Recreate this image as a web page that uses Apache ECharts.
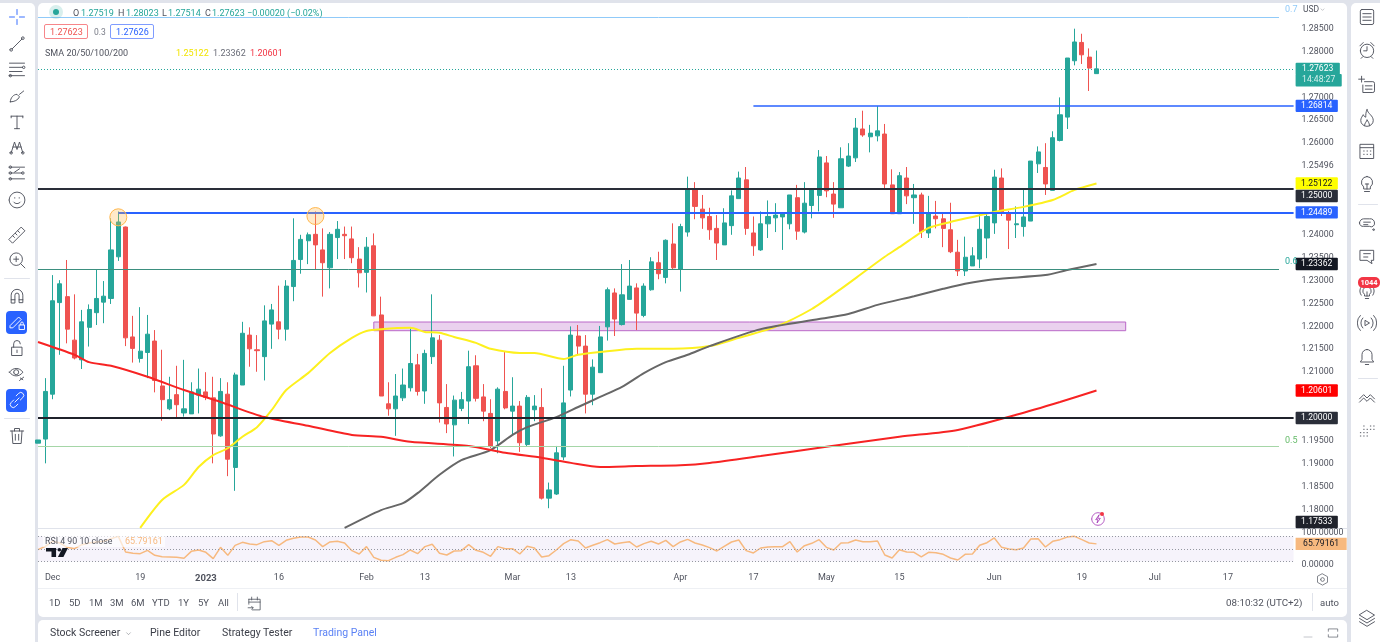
<!DOCTYPE html>
<html>
<head>
<meta charset="UTF-8">
<title>GBP/USD daily</title>
<script src="https://cdn.jsdelivr.net/npm/echarts@6/dist/echarts.min.js"></script>
<style>
html, body { margin: 0; height: 100%; background: #e0e3eb; overflow: hidden; font-family: Roboto, "Liberation Sans", sans-serif; }
.panel { position: absolute; background: #fff; z-index: 0; }
#main { position: absolute; left: 0; top: 0; width: 1380px; height: 642px; z-index: 1; }
#overlay { position: absolute; left: 0; top: 0; width: 1380px; height: 642px; z-index: 2; pointer-events: none; }
#overlay span { position: absolute; white-space: nowrap; line-height: 1; transform: translateY(-50%); }
#overlay svg { position: absolute; fill: none; stroke-linecap: round; stroke-linejoin: round; }
.box { position: absolute; box-sizing: border-box; border-radius: 2px; }
</style>
</head>
<body>
<div class="panel" style="left:0;top:3px;width:35px;height:639px;border-radius:0 5px 0 0"></div>
<div class="panel" style="left:38px;top:3px;width:1309px;height:614px;border-radius:5px"></div>
<div class="panel" style="left:38px;top:620px;width:1309px;height:22px;border-radius:5px 5px 0 0"></div>
<div class="panel" style="left:1351px;top:3px;width:29px;height:639px;border-radius:5px 0 0 0"></div>
<div class="panel" style="left:38px;top:528px;width:1309px;height:1px;background:#e0e3eb"></div>
<div class="panel" style="left:38px;top:588px;width:1309px;height:1px;background:#eef0f4"></div>
<div class="panel" style="left:237px;top:593px;width:1px;height:18px;background:#e0e3eb"></div>
<div class="panel" style="left:1312px;top:593px;width:1px;height:18px;background:#e0e3eb"></div>
<div id="main"></div>
<div id="overlay"></div>
<script type="text/javascript">
// candles
var opens = [
  1.1945,1.1954,1.2052,1.2252,1.2265,1.2170,1.2127,1.2198,1.2230,1.2253,
  1.2261,1.2352,1.2417,1.2177,1.2130,1.2143,1.2168,1.2070,1.2020,1.2051,
  1.2011,1.2009,1.2050,1.2057,1.2044,1.1961,1.2052,1.1892,1.2072,1.2181,
  1.2149,1.2134,1.2205,1.2210,1.2194,1.2287,1.2346,1.2387,1.2401,1.2367,
  1.2328,1.2394,1.2401,1.2391,1.2347,1.2318,1.2376,1.2225,1.2031,1.2020,
  1.2044,1.2066,1.2116,1.2059,1.2134,1.2170,1.2023,1.1985,1.2021,1.2037,
  1.2114,1.2046,1.2010,1.1950,1.2058,1.2015,1.2026,1.1942,1.2018,1.2023,
  1.1825,1.1834,1.1915,1.2061,1.2179,1.2157,1.2052,1.2099,1.2199,1.2273,
  1.2204,1.2259,1.2284,1.2224,1.2280,1.2339,1.2307,1.2380,1.2325,1.2406,
  1.2501,1.2456,1.2440,1.2414,1.2378,1.2420,1.2479,1.2520,1.2404,1.2367,
  1.2424,1.2437,1.2439,1.2424,1.2481,1.2406,1.2464,1.2486,1.2557,1.2489,
  1.2459,1.2550,1.2568,1.2631,1.2614,1.2616,1.2620,1.2509,1.2446,1.2524,
  1.2481,1.2487,1.2404,1.2441,1.2435,1.2411,1.2362,1.2321,1.2332,1.2347,
  1.2393,1.2426,1.2524,1.2446,1.2422,1.2418,1.2430,1.2555,1.2547,1.2497,
  1.2606,1.2657,1.2780,1.2820,1.2788,1.27519
];
var closes = [
  1.1952,1.2058,1.2256,1.2293,1.2194,1.2131,1.2210,1.2237,1.2261,1.2266,
  1.2367,1.2428,1.2175,1.2152,1.2146,1.2183,1.2082,1.2040,1.2040,1.2029,
  1.2020,1.2057,1.2063,1.2045,1.1965,1.2058,1.1910,1.2094,1.2185,1.2151,
  1.2147,1.2212,1.2236,1.2194,1.2288,1.2344,1.2390,1.2400,1.2378,1.2339,
  1.2401,1.2412,1.2398,1.2350,1.2317,1.2373,1.2223,1.2048,1.2020,1.2048,
  1.2072,1.2119,1.2058,1.2141,1.2175,1.2033,1.1987,1.2039,1.2040,1.2112,
  1.2043,1.2015,1.1939,1.2063,1.2022,1.2026,1.1946,1.2045,1.2026,1.1825,
  1.1843,1.1924,1.2033,1.2181,1.2157,1.2052,1.2111,1.2177,1.2280,1.2216,
  1.2269,1.2288,1.2229,1.2288,1.2341,1.2315,1.2388,1.2328,1.2418,1.2501,
  1.2462,1.2437,1.2411,1.2382,1.2426,1.2485,1.2524,1.2414,1.2376,1.2424,
  1.2440,1.2443,1.2446,1.2487,1.2408,1.2469,1.2499,1.2570,1.2496,1.2467,
  1.2566,1.2572,1.2633,1.2618,1.2622,1.2627,1.2511,1.2446,1.2529,1.2485,
  1.2487,1.2407,1.2446,1.2435,1.2414,1.2363,1.2321,1.2351,1.2354,1.2412,
  1.2440,1.2526,1.2450,1.2432,1.2424,1.2439,1.2561,1.2581,1.2511,1.2612,
  1.2662,1.2786,1.2821,1.2793,1.2764,1.27623
];
var highs = [
  1.1952,1.2087,1.2312,1.2301,1.2345,1.2270,1.2236,1.2248,1.2325,1.2299,
  1.2436,1.2451,1.2418,1.2223,1.2242,1.2225,1.2192,1.2149,1.2090,1.2114,
  1.2127,1.2078,1.2108,1.2100,1.2090,1.2087,1.2078,1.2099,1.2210,1.2198,
  1.2181,1.2246,1.2249,1.2289,1.2301,1.2436,1.2400,1.2405,1.2451,1.2414,
  1.2406,1.2430,1.2418,1.2418,1.2373,1.2395,1.2403,1.2265,1.2078,1.2096,
  1.2108,1.2196,1.2140,1.2149,1.2270,1.2181,1.2074,1.2049,1.2057,1.2147,
  1.2137,1.2074,1.2041,1.2067,1.2145,1.2089,1.2037,1.2050,1.2050,1.2065,
  1.1859,1.1939,1.2114,1.2200,1.2203,1.2181,1.2128,1.2201,1.2285,1.2283,
  1.2336,1.2345,1.2294,1.2294,1.2351,1.2363,1.2390,1.2425,1.2424,1.2527,
  1.2515,1.2487,1.2459,1.2443,1.2458,1.2497,1.2538,1.2548,1.2440,1.2451,
  1.2475,1.2469,1.2446,1.2487,1.2509,1.2515,1.2501,1.2585,1.2572,1.2515,
  1.2591,1.2600,1.2655,1.2671,1.2640,1.2681,1.2642,1.2543,1.2537,1.2548,
  1.2511,1.2492,1.2485,1.2474,1.2448,1.2470,1.2389,1.2396,1.2373,1.2448,
  1.2448,1.2542,1.2545,1.2452,1.2462,1.2502,1.2561,1.2593,1.2600,1.2626,
  1.2700,1.2786,1.2850,1.2839,1.2807,1.28023
];
var lows = [
  1.1945,1.1901,1.2041,1.2138,1.2163,1.2128,1.2107,1.2156,1.2203,1.2207,
  1.2249,1.2343,1.2157,1.2121,1.2121,1.2087,1.2056,1.1994,1.2017,1.2001,
  1.2003,1.2009,1.2010,1.2039,1.1901,1.1959,1.1873,1.1841,1.2072,1.2112,
  1.2101,1.2082,1.2151,1.2172,1.2169,1.2255,1.2315,1.2336,1.2325,1.2265,
  1.2283,1.2347,1.2347,1.2338,1.2285,1.2274,1.2223,1.2048,1.2005,1.1961,
  1.2037,1.2058,1.2049,1.2031,1.2118,1.1990,1.1967,1.1916,1.2015,1.1987,
  1.2036,1.1993,1.1934,1.1923,1.2019,1.1963,1.1926,1.1939,1.1993,1.1822,
  1.1803,1.1832,1.1908,1.2047,1.2138,1.2010,1.2028,1.2099,1.2169,1.2179,
  1.2202,1.2259,1.2192,1.2220,1.2278,1.2303,1.2294,1.2325,1.2276,1.2396,
  1.2434,1.2413,1.2389,1.2345,1.2378,1.2400,1.2479,1.2400,1.2354,1.2365,
  1.2393,1.2406,1.2367,1.2412,1.2389,1.2403,1.2436,1.2451,1.2482,1.2437,
  1.2459,1.2548,1.2559,1.2614,1.2580,1.2604,1.2498,1.2446,1.2446,1.2467,
  1.2424,1.2393,1.2393,1.2414,1.2373,1.2360,1.2310,1.2310,1.2332,1.2327,
  1.2349,1.2402,1.2441,1.2369,1.2393,1.2396,1.2430,1.2535,1.2487,1.2497,
  1.2604,1.2631,1.2770,1.2773,1.2714,1.27514
];

// moving averages as [bar index, price], read every few bars
var sma50 = [[14,1.1760],[17,1.1821],[20,1.1854],[22,1.1893],[24,1.1919],[26,1.1934],[28,1.1959],[30,1.1980],[32,1.2017],[34,1.2061],[37,1.2098],[40,1.2142],[43,1.2175],[45,1.2190],[47,1.2194],[51,1.2197],[53,1.2188],[55,1.2186],[57,1.2177],[60,1.2164],[62,1.2151],[66,1.2142],[68,1.2142],[72,1.2129],[74,1.2138],[77,1.2144],[82,1.2151],[87,1.2151],[92,1.2157],[96,1.2175],[101,1.2199],[106,1.2238],[110,1.2282],[113,1.2317],[116,1.2352],[118,1.2373],[120,1.2395],[122,1.2415],[125,1.2428],[128,1.2439],[131,1.2450],[135,1.2461],[139,1.2476],[142,1.2498],[145,1.25122]];
var sma100 = [[42,1.1760],[47,1.1799],[50,1.1814],[52,1.1836],[55,1.1876],[58,1.1908],[62,1.1930],[65,1.1963],[67,1.1980],[71,1.2002],[74,1.2024],[77,1.2046],[80,1.2068],[83,1.2098],[86,1.2122],[89,1.2138],[92,1.2157],[99,1.2194],[107,1.2216],[111,1.2227],[115,1.2247],[120,1.2266],[124,1.2282],[127,1.2293],[131,1.2303],[138,1.2312],[141,1.2323],[145,1.23362]];
var sma200 = [[0,1.2166],[5,1.2138],[7,1.2122],[10,1.2114],[15,1.2090],[20,1.2061],[25,1.2035],[31,1.2002],[37,1.1983],[43,1.1963],[47,1.1959],[51,1.1948],[59,1.1939],[64,1.1924],[69,1.1913],[73,1.1902],[77,1.1893],[82,1.1895],[88,1.1897],[92,1.1902],[99,1.1917],[108,1.1937],[118,1.1959],[126,1.1974],[134,1.2007],[140,1.2035],[145,1.20601]];

var rsi = [
  47.4,58.0,73.9,68.6,54.8,50.6,63.3,68.6,71.8,73.9,82.3,89.7,40.0,35.8,34.7,45.3,29.4,25.2,24.2,23.1,
  19.9,42.1,46.4,39.0,18.9,54.8,29.4,61.2,70.7,65.4,63.3,72.8,76.0,61.2,77.1,83.4,87.6,87.6,78.1,57.0,
  71.8,73.9,68.6,44.3,33.7,57.0,23.1,13.6,12.5,23.1,31.6,46.4,34.7,57.0,64.4,35.8,30.5,43.2,44.3,63.3,
  45.3,39.0,26.3,57.0,50.6,50.6,33.7,58.0,52.7,24.2,28.4,46.4,66.5,79.2,74.9,52.7,61.2,69.6,79.2,65.4,
  69.6,72.8,55.9,66.5,73.9,65.4,77.1,57.0,71.8,80.2,68.6,62.2,53.8,43.2,58.0,71.8,78.1,44.3,36.9,52.7,
  55.9,57.0,57.0,72.8,40.0,60.1,67.5,79.2,54.8,46.4,68.6,69.6,78.1,72.8,72.8,74.9,30.5,21.0,47.4,40.0,
  39.0,24.2,39.0,37.9,32.6,21.0,14.6,32.6,33.7,61.2,69.6,84.5,54.8,49.5,47.4,52.7,81.3,82.3,55.9,73.9,
  79.2,87.6,89.7,79.2,68.6,65.79161
];

// x axis: bar indexes that carry a label, and the labels
var xTickIndex = [2,14,23,33,45,53,65,73,88,98,108,118,131,143,153,163];
var xTickText = ['Dec','19','2023','16','Feb','13','Mar','13','Apr','17','May','15','Jun','19','Jul','17'];
// price labels that are visible on the right axis
var yTickLabels = ['1.18000','1.18500','1.19000','1.19500','1.20000','1.21000','1.21500','1.22000','1.22500','1.23000','1.23500','1.24000','1.25496','1.26000','1.26500','1.27000','1.28000','1.28500'];
var rsiBands = [90, 50, 10];

var BAR_COUNT = 173;
// trading days, 29 Nov 2022 on, Boxing Day missing like in the picture
var categories = [];
var day = new Date(Date.UTC(2022, 10, 29));
while (categories.length < BAR_COUNT) {
    var iso = day.toISOString().slice(0, 10);
    if (day.getUTCDay() % 6 !== 0 && iso !== '2022-12-26') categories.push(iso);
    day = new Date(day.getTime() + 86400000);
}
var LAST = BAR_COUNT - 1;

function level(from, to, price, color, width, type) {
    return [{ coord: [from, price], lineStyle: { color: color, width: width, type: type || 'solid' }, label: { show: false } }, { coord: [to, price] }];
}
// price tag on the axis, hung on the end of a see-through stub
function tag(price, text, bg, fg, pad) {
    return [{
        coord: [LAST - 1, price],
        lineStyle: { color: 'rgba(0,0,0,0)', width: 0 },
        label: { show: true, position: 'end', distance: 2, formatter: text, backgroundColor: bg, color: fg, fontSize: 8.6, lineHeight: 12.4, height: 12.4, padding: [0, pad || 5.5], fontFamily: 'Roboto', borderRadius: 1 }
    }, { coord: [LAST, price] }];
}

var myChart = echarts.init(document.getElementById('main'), null, { renderer: 'canvas' });

var option = {
    animation: false,
    backgroundColor: 'transparent',
    grid: [
        { left: 38, top: 5.8, width: 1255.6, height: 526.7 },
        { left: 38, top: 533.1, width: 1255.6, height: 31.5 }
    ],
    xAxis: [
        { type: 'category', gridIndex: 0, data: categories, boundaryGap: false, axisLine: { show: false }, axisTick: { show: false }, axisLabel: { show: false }, splitLine: { show: false } },
        {
            type: 'category', gridIndex: 1, data: categories, boundaryGap: false, axisLine: { show: false }, axisTick: { show: false }, splitLine: { show: false },
            axisLabel: {
                margin: 9, fontSize: 9, fontFamily: 'Roboto', color: '#50535e', hideOverlap: false,
                interval: function (i) { return xTickIndex.indexOf(i) >= 0; },
                formatter: function (v, i) {
                    var t = xTickText[xTickIndex.indexOf(i)];
                    return t === '2023' ? '{b|2023}' : t;
                },
                rich: { b: { fontSize: 9.5, fontWeight: 'bold', color: '#50535e', fontFamily: 'Roboto' } }
            }
        }
    ],
    yAxis: [
        {
            type: 'value', gridIndex: 0, position: 'right', min: 1.175, max: 1.29, interval: 0.005, axisLine: { show: false }, axisTick: { show: false }, splitLine: { show: false },
            axisLabel: {
                margin: 8, fontSize: 8.8, fontFamily: 'Roboto', color: '#50535e',
                formatter: function (v) {
                    var s = v.toFixed(5);
                    if (s === '1.25500') s = '1.25496';
                    return yTickLabels.indexOf(s) >= 0 ? s : '';
                }
            }
        },
        {
            type: 'value', gridIndex: 1, position: 'right', min: 0, max: 100, interval: 100, axisLine: { show: false }, axisTick: { show: false }, splitLine: { show: false },
            axisLabel: { margin: 8, fontSize: 8.8, fontFamily: 'Roboto', color: '#50535e', formatter: function (v) { return v.toFixed(5); } }
        }
    ],
    series: [
        {
            name: 'GBPUSD', type: 'candlestick', xAxisIndex: 0, yAxisIndex: 0, z: 2, barWidth: 4.6,
            itemStyle: { color: '#26a69a', color0: '#ef5350', borderColor: '#26a69a', borderColor0: '#ef5350', borderWidth: 1 },
            data: opens.map(function (o, i) { return [o, closes[i], lows[i], highs[i]]; })
        },
        {
            name: 'levels', type: 'line', xAxisIndex: 0, yAxisIndex: 0, z: 3, data: [], clip: false,
            markLine: {
                silent: true, symbol: 'none', animation: false,
                data: [
                    level(0, 170, 1.28755, '#90caf9', 1),
                    level(0, LAST, 1.27623, '#26a69a', 1, [1, 2]),
                    level(98, LAST, 1.26814, '#2962ff', 1.5),
                    level(0, LAST, 1.25, '#2a2e39', 2),
                    level(11, LAST, 1.24489, '#2962ff', 2),
                    level(0, 170, 1.23247, '#3b8f7f', 1),
                    level(0, LAST, 1.2, '#1f222b', 2),
                    level(0, 170, 1.19373, '#a5d6a7', 1)
                ]
            },
            markArea: {
                silent: true,
                itemStyle: { color: 'rgba(186,104,200,0.3)', borderColor: '#ba68c8', borderWidth: 1 },
                data: [[{ coord: [46, 1.22096] }, { coord: [149, 1.21906] }]]
            }
        },
        { name: 'SMA 50', type: 'line', xAxisIndex: 0, yAxisIndex: 0, z: 4, data: sma50, showSymbol: false, smooth: 0.25, lineStyle: { color: '#fdf01e', width: 2 } },
        { name: 'SMA 100', type: 'line', xAxisIndex: 0, yAxisIndex: 0, z: 4, data: sma100, showSymbol: false, smooth: 0.25, lineStyle: { color: '#676767', width: 2 } },
        { name: 'SMA 200', type: 'line', xAxisIndex: 0, yAxisIndex: 0, z: 4, data: sma200, showSymbol: false, smooth: 0.25, lineStyle: { color: '#f72323', width: 2 } },
        {
            name: 'marks', type: 'scatter', xAxisIndex: 0, yAxisIndex: 0, z: 5, symbolSize: 17,
            itemStyle: { color: 'rgba(255,183,77,0.3)', borderColor: '#ffb74d', borderWidth: 1, opacity: 1 },
            data: [[11, 1.24382], [38, 1.2441]]
        },
        {
            name: 'tags', type: 'line', xAxisIndex: 0, yAxisIndex: 0, z: 10, data: [], clip: false,
            markLine: {
                silent: true, symbol: 'none', animation: false,
                data: [
                    tag(1.27623, '1.27623', '#26a69a', '#fff', 6.5),
                    tag(1.27375, '14:48:27', '#26a69a', '#d6f0ed', 6.5),
                    tag(1.26814, '1.26814', '#2962ff', '#fff'),
                    tag(1.25122, '1.25122', '#ffff00', '#131722'),
                    tag(1.24847, '1.25000', '#2a2e39', '#fff'),
                    tag(1.24489, '1.24489', '#2962ff', '#fff'),
                    tag(1.23362, '1.23362', '#131722', '#fff'),
                    tag(1.20601, '1.20601', '#ff0000', '#fff'),
                    tag(1.2, '1.20000', '#2a2e39', '#fff'),
                    tag(1.17729, '1.17533', '#1f222b', '#fff')
                ]
            }
        },
        {
            name: 'RSI', type: 'line', xAxisIndex: 1, yAxisIndex: 1, z: 4, data: rsi, showSymbol: false, clip: false,
            lineStyle: { color: '#f7b97f', width: 1.5 },
            markArea: {
                silent: true, itemStyle: { color: 'rgba(126,87,194,0.07)' },
                data: [[{ coord: [0, rsiBands[0]] }, { coord: [LAST, rsiBands[2]] }]]
            },
            markLine: {
                silent: true, symbol: 'none', animation: false,
                data: rsiBands.map(function (b) { return level(0, LAST, b, '#9598a1', 1, [1, 2]); }).concat([
                    [{
                        coord: [LAST - 1, rsi[rsi.length - 1]], lineStyle: { color: 'rgba(0,0,0,0)', width: 0 },
                        label: { show: true, position: 'end', distance: 2, formatter: '65.79161', backgroundColor: '#f7b97f', color: '#131722', fontSize: 8.6, lineHeight: 12.4, height: 12.4, padding: [0, 7.5], fontFamily: 'Roboto' }
                    }, { coord: [LAST, rsi[rsi.length - 1]] }]
                ])
            }
        }
    ]
};
myChart.setOption(option);

// ------ everything around the chart: legends, toolbars, tabs ------
var overlay = document.getElementById('overlay');
var TXT = '#50535e', INK = '#4a4e59', GREEN = '#26a69a', BLUE = '#2962ff';

function text(x, y, s, color, size, extra) {
    var el = document.createElement('span');
    el.textContent = s;
    el.style.left = x + 'px';
    el.style.top = y + 'px';
    el.style.color = color || TXT;
    el.style.fontSize = (size || 9) + 'px';
    if (extra) el.style.cssText += extra;
    overlay.appendChild(el);
}
function box(x, y, w, h, css) {
    var el = document.createElement('div');
    el.className = 'box';
    el.style.cssText = 'left:' + x + 'px;top:' + y + 'px;width:' + w + 'px;height:' + h + 'px;' + css;
    overlay.appendChild(el);
}
function c(x, y, r) {
    return 'M' + (x - r) + ' ' + y + 'a' + r + ' ' + r + ' 0 1 0 ' + (2 * r) + ' 0a' + r + ' ' + r + ' 0 1 0 ' + (-2 * r) + ' 0';
}
function icon(cx, cy, d, color, size, fill) {
    size = size || 20;
    var svg = '<svg viewBox="0 0 24 24" width="' + size + '" height="' + size + '" style="left:' + (cx - size / 2) + 'px;top:' + (cy - size / 2) + 'px"><path d="' + d + '" stroke="' + (fill ? 'none' : (color || INK)) + '" fill="' + (fill ? color : 'none') + '" stroke-width="1.1"/></svg>';
    overlay.insertAdjacentHTML('beforeend', svg);
}

// top legend
box(49, 5, 14, 14, 'border-radius:50%;background:rgba(38,166,154,0.18)');
box(53, 9, 6, 6, 'border-radius:50%;background:' + GREEN);
text(73, 13, 'O', TXT); text(81, 13, '1.27519', GREEN);
text(118, 13, 'H', TXT); text(126, 13, '1.28023', GREEN);
text(162, 13, 'L', TXT); text(168, 13, '1.27514', GREEN);
text(205, 13, 'C', TXT); text(212, 13, '1.27623', GREEN);
text(247, 13, '\u22120.00020 (\u22120.02%)', GREEN);
box(44, 24, 44, 15, 'border:1px solid #f7868a;background:#fff');
text(50, 32, '1.27623', '#ef5350');
text(94, 32, '0.3', '#787b86', 8.5);
box(110, 24, 44, 15, 'border:1px solid #7f9cff;background:#fff');
text(116, 32, '1.27626', BLUE);
text(45, 53, 'SMA 20/50/100/200', TXT, 9);
text(176, 53, '1.25122', '#f1e400');
text(213, 53, '1.23362', '#6a6d78');
text(250, 53, '1.20601', '#f23645');

// USD, fib labels
text(1285, 9, '0.7', '#90caf9', 9);
text(1285, 261, '0.6', GREEN, 9);
text(1285, 440, '0.5', '#66bb6a', 9);
text(1303, 9, 'USD', TXT, 8.5);
icon(1322, 9, 'M7 10l5 5 5-5', INK, 7);

// RSI legend and logo
box(43, 535, 122, 12, 'background:rgba(255,255,255,0.65);border-radius:0');
text(45, 541, 'RSI 4 90 10 close', TXT, 8.8);
text(125, 541, '65.79161', '#f7b97f', 9);
overlay.insertAdjacentHTML('beforeend', '<svg viewBox="0 0 24 12" width="22" height="11" style="left:46px;top:547px"><path d="M0 1h11v10H6V5H0zM24 1l-5 10h-6l5-10z" fill="#131722"/><circle cx="14.5" cy="3" r="2" fill="#131722"/></svg>');

// range bar
var ranges = [['1D', 49], ['5D', 69], ['1M', 89], ['3M', 110], ['6M', 131], ['YTD', 152], ['1Y', 178], ['5Y', 198], ['All', 218]];
ranges.forEach(function (r) { text(r[1], 603, r[0], TXT, 9.5); });
icon(254, 603, 'M4 6h16v15H9M4 6v7M4 10h16M8 3v4M16 3v4M3 18h7M8 16l2 2-2 2', INK, 17);
text(1226, 603, '08:10:32 (UTC+2)', TXT, 9.8);
text(1320, 603, 'auto', TXT, 9.5);
icon(1322, 579, 'M12 3l8 4.5v9L12 21l-8-4.5v-9z' + c(12, 12, 3), INK, 15);

// tab bar
text(50, 633, 'Stock Screener', '#3b3e48', 10.5);
icon(128, 633, 'M7 10l5 5 5-5', INK, 9);
text(150, 633, 'Pine Editor', '#3b3e48', 10.5);
text(222, 633, 'Strategy Tester', '#3b3e48', 10.5);
text(313, 633, 'Trading Panel', '#5b82f5', 10.5);
icon(1308, 637, 'M4 12h16', '#9598a1', 12);
icon(1333, 633, 'M4 9V5h16v4M4 15v4h16v-4', INK, 14);

// alert spark
icon(1098, 519, c(12, 12, 9.5) + 'M13.5 6l-5 7h3.5l-1.5 5 5-7H12z', '#9c27b0', 16);
box(1100, 512, 4, 4, 'border-radius:50%;background:#f23645');

// left toolbar
var leftIcons = [
    [17, 'M12 3v6M12 15v6M3 12h6M15 12h6', BLUE],
    [44, 'M6 18L18 6' + c(5, 19, 1.6) + c(19, 5, 1.6)],
    [69, 'M3 5h18M3 10h15M3 15h15M3 20h18' + c(20, 10, 1.5) + c(4, 20, 1.5)],
    [96, 'M4 19c0-5 4-9 8-9l3 3c-2 4-6 6-11 6zM15 10l5-4'],
    [122, 'M5 5h14M12 5v15M9 20h6M5 5v2M19 5v2'],
    [147, 'M5 19L9 6l3 9 3-9 4 13M7 12h10' + c(5, 19, 1.5) + c(19, 19, 1.5)],
    [173, 'M4 5h17M4 12h14M4 19h17M9 11l6-4' + c(4, 5, 1.5) + c(4, 12, 1.5) + c(4, 19, 1.5) + c(19, 12, 1.5)],
    [200, c(12, 12, 9.5) + 'M8 14.5c2 2.5 6 2.5 8 0M9 9.5h.5M14.5 9.5h.5'],
    [235, 'M2.5 17L17 2.5l4.5 4.5L7 21.5zM7 13l2 2M10 10l2 2M13 7l2 2'],
    [260, c(11, 11, 7.5) + 'M16.5 16.5l5 5M11 8v6M8 11h6'],
    [296, 'M5 20V11a7 7 0 0 1 14 0v9h-4.5v-9a2.5 2.5 0 0 0-5 0v9zM5 16.5h4.5M14.5 16.5H19'],
    [348, 'M6 11h12v10H6zM8 11V7a4 4 0 0 1 8 0M12 14.5v3'],
    [373, 'M3 11c4-6 12-6 16 0-4 6-12 6-16 0z' + c(11, 11, 3) + 'M15 21l5-4M16 18l3 2'],
    [436, 'M4 6h16M9 6V3h6v3M6 6l1 15h10l1-15M10 10v7M14 10v7']
];
leftIcons.forEach(function (a) { icon(16.5, a[0], a[1], a[2]); });
box(6, 311, 21, 23, 'background:' + BLUE + ';border-radius:4px');
icon(16.5, 322, 'M4 16L14 6l3 3L7 19H4zM15 15.5h6v5.5h-6zM16.5 15.5v-2a1.5 1.5 0 0 1 3 0v2', '#fff');
box(6, 389, 21, 23, 'background:' + BLUE + ';border-radius:4px');
icon(16.5, 400, 'M9.5 14.5l5-5M8 12l-3 3a3.5 3.5 0 0 0 5 5l3-3M16 12l3-3a3.5 3.5 0 0 0-5-5l-3 3', '#fff');
box(4, 278, 26, 1, 'background:#e0e3eb');
box(4, 418, 26, 1, 'background:#e0e3eb');

// right toolbar
var rightIcons = [
    [17, 'M6 3h12a2 2 0 0 1 2 2v14a2 2 0 0 1-2 2H6a2 2 0 0 1-2-2V5a2 2 0 0 1 2-2zM7 8h10M7 12h10M7 16h10'],
    [50, c(12, 13, 8) + 'M12 8v5H8M3.5 7l4-4M20.5 7l-4-4M7 20l-2 2M17 20l2 2'],
    [85, 'M2 5h7M5.5 1.5v7M9 8h10a2 2 0 0 1 2 2v9a2 2 0 0 1-2 2H7V12M10 13h8M10 17h8'],
    [118, 'M12 2c1 5 7.5 7 7.5 13a7.5 7 0 0 1-15 0c0-3 2-5 3-7 1 2 2 3 3 3 0-3 0-6 1.5-9zM9 21c0-3 3-5 3-7 1 2 3 4 3 7'],
    [151, 'M4 4h16v17H4zM4 8h16M8 12h.6M12 12h.6M16 12h.6M8 16h.6M12 16h.6M16 16h.6'],
    [184, 'M12 3a7 7 0 0 0-4 12.5V18h8v-2.5A7 7 0 0 0 12 3zM9 21h6M12 18v-6M10 12h4'],
    [223, 'M3 12a5 5 0 0 1 5-5h7a5 5 0 0 1 6 5 4 4 0 0 1-6 4H8a4.5 4.5 0 0 1-5-4zM8 11h8M8 14h5' + c(20, 20, 1)],
    [257, 'M4 4h16v12h-3l1 4-6-4H4zM8 8h8M8 12h5'],
    [291, 'M12 7a5 5 0 0 0-3 9v2h6v-2a5 5 0 0 0-3-9zM10 21h4M5 7a9 9 0 0 0 0 10M19 7a9 9 0 0 1 0 10M12 18v-5'],
    [323, 'M10 9l5 3-5 3zM7 6a8.5 8.5 0 0 0 0 12M17 6a8.5 8.5 0 0 1 0 12M4 3a12.5 12.5 0 0 0 0 18M20 3a12.5 12.5 0 0 1 0 18'],
    [357, 'M12 3a6 6 0 0 0-6 6v6l-2 3h16l-2-3V9a6 6 0 0 0-6-6zM10 21h4'],
    [398, 'M3 13l5-5 4 4 4-4 5 5M3 17l5-5 4 4 4-4 5 5'],
    [431, 'M8 6h.6M8 10h.6M8 14h.6M8 18h.6M12 10h.6M12 14h.6M12 18h.6M16 6h.6M16 10h.6M4 14h.6M4 18h.6M20 6h.6M20 10h.6'],
    [618, 'M12 3l9 5.5-9 5.5-9-5.5zM3 12.5l9 5.5 9-5.5M3 16.5l9 5.5 9-5.5']
];
rightIcons.forEach(function (a) { icon(1366.5, a[0], a[1]); });
box(1358, 277, 22, 10.5, 'background:#f23645;border-radius:5px');
text(1369, 282.5, '1044', '#fff', 7.5, 'transform:translate(-50%,-50%);font-weight:bold');
box(1358, 204, 20, 1, 'background:#e0e3eb');
box(1358, 378, 20, 1, 'background:#e0e3eb');
</script>
</body>
</html>
